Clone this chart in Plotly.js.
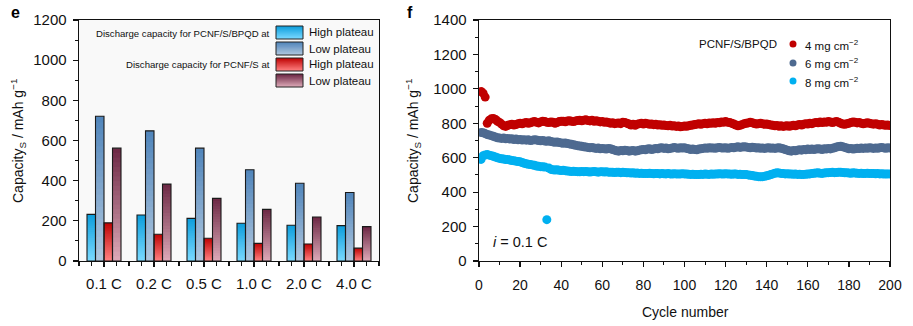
<!DOCTYPE html>
<html><head><meta charset="utf-8">
<script src="https://cdn.plot.ly/plotly-3.0.1.min.js"></script>
<style>html,body{margin:0;padding:0;background:#fff}#chart{width:913px;height:326px}</style>
</head><body><div id="chart"></div>
<script>
// ---------- Panel e data ----------
const rates = ['0.1 C', '0.2 C', '0.5 C', '1.0 C', '2.0 C', '4.0 C'];
const bpqdHigh = [232, 229, 212, 188, 178, 176];
const bpqdLow  = [721, 648, 562, 454, 387, 341];
const pcnfHigh = [190, 133, 113, 88, 85, 64];
const pcnfLow  = [562, 383, 312, 257, 219, 171];

// ---------- Panel f data (cycles 1..200) ----------
const cycles = Array.from({length: 200}, (_, i) => i + 1);
const load4 = [
985,975,952,800,818,826,828,822,812,805,
795,786,782,788,792,795,790,793,798,800,
797,801,805,800,803,807,810,806,802,808,
812,810,806,804,808,806,800,804,810,812,
812,809,813,815,812,810,814,816,818,815,
818,820,816,814,817,812,815,812,808,810,
806,808,804,800,803,798,800,802,798,806,
804,800,796,790,794,788,795,798,800,796,
800,798,794,796,792,795,790,792,788,790,
787,785,788,784,786,782,784,780,782,784,
783,786,788,790,793,795,797,794,798,800,
797,801,800,803,800,805,803,808,806,810,
806,804,800,796,790,786,788,792,797,800,
802,806,803,799,796,798,800,797,794,796,
793,790,788,785,787,783,785,782,784,786,
783,786,789,786,790,793,790,795,798,796,
800,798,802,805,803,807,804,808,806,810,
807,804,808,810,806,800,796,794,797,800,
804,808,806,802,805,800,797,800,803,800,
797,795,798,794,790,793,790,788,790,787];
const load6 = [
746,745,740,735,732,728,724,720,716,714,
712,714,710,712,708,710,706,708,704,706,
703,705,702,704,700,702,705,703,700,698,
700,697,695,698,694,692,690,692,688,686,
684,686,682,680,678,675,672,670,668,666,
664,662,660,658,660,656,654,656,652,654,
652,650,654,652,648,644,640,638,642,640,
644,642,638,640,642,638,640,644,646,648,
646,650,652,648,650,654,652,656,658,654,
656,652,654,656,660,657,655,658,656,658,
654,652,648,650,648,646,650,652,654,657,
655,658,656,657,655,658,660,657,656,658,
655,657,660,658,661,663,660,662,664,662,
660,658,661,659,656,658,655,657,654,656,
658,655,657,654,656,658,655,652,648,644,
640,638,642,640,644,646,644,648,646,650,
648,650,647,650,652,650,648,652,650,653,
651,655,658,662,665,667,664,660,656,652,
654,650,652,655,653,656,654,657,655,658,
656,654,657,655,658,660,657,655,658,656];
const load8 = [
590,612,616,618,615,612,608,604,600,596,
594,592,589,590,586,584,582,580,578,576,
572,568,565,562,560,558,556,552,550,548,
547,546,240,540,532,530,528,530,527,526,
527,525,523,522,520,522,520,519,518,520,
519,520,518,517,519,520,518,516,518,519,
517,518,516,515,516,514,516,515,513,515,
514,512,513,511,512,510,511,509,510,508,
509,508,510,508,507,509,508,506,508,507,
506,508,506,505,507,506,505,506,507,506,
505,504,503,504,502,503,502,504,503,505,
504,503,505,504,506,505,507,506,505,507,
506,505,504,506,505,503,504,502,503,502,
500,498,496,494,492,490,489,490,492,495,
498,502,506,510,512,511,509,508,506,507,
505,506,504,505,503,504,502,503,504,505,
506,508,510,511,512,510,509,511,512,513,
514,515,513,514,515,516,514,512,513,511,
510,512,511,510,509,510,508,509,510,508,
509,508,507,508,506,507,505,506,505,506];

// ---------- helpers ----------
const W = 913, H = 326;
const px = x => x / W;
const py = y => 1 - y / H;
function hex2rgb(h){return [1,3,5].map(i=>parseInt(h.substr(i,2),16));}
function lerp(c1,c2,t){const a=hex2rgb(c1),b=hex2rgb(c2);return 'rgb('+a.map((v,i)=>Math.round(v+(b[i]-v)*t)).join(',')+')';}

const FONT = 'Liberation Sans, Arial, Helvetica, sans-serif';
const idx = rates.map((_, i) => i);
const barW = 0.17;
const series = [
  {vals: bpqdHigh, top: '#0f9fdc', bot: '#78d8ff', off: -2*barW},
  {vals: bpqdLow,  top: '#5286bb', bot: '#aec6de', off: -barW},
  {vals: pcnfHigh, top: '#c00606', bot: '#ff7f7f', off: 0},
  {vals: pcnfLow,  top: '#6e2a46', bot: '#dba7b6', off: barW}
];
// vertical gradient: nested bars from the axis, each shorter one lighter
const K = 24;
const traces = [];
series.forEach(s => {
  for (let k = 0; k < K; k++) {
    const frac = (K - k) / K;
    traces.push({
      type: 'bar', x: idx, y: s.vals.map(v => v * frac),
      offset: s.off, width: barW, xaxis: 'x', yaxis: 'y',
      marker: {color: lerp(s.top, s.bot, k / (K - 1)), line: {width: 0}},
      showlegend: false, hoverinfo: 'skip'
    });
  }
});
series.forEach(s => {
  traces.push({
    type: 'bar', x: idx, y: s.vals, offset: s.off, width: barW, xaxis: 'x', yaxis: 'y',
    marker: {color: 'rgba(0,0,0,0)', line: {color: '#1a1a1a', width: 1.1}},
    showlegend: false, hoverinfo: 'skip'
  });
});

const fSeries = [
  {y: load4, color: '#c00000', name: '4 mg cm<sup>\u22122</sup>'},
  {y: load6, color: '#4e6a90', name: '6 mg cm<sup>\u22122</sup>'},
  {y: load8, color: '#00b0f0', name: '8 mg cm<sup>\u22122</sup>'}
];
fSeries.forEach(s => traces.push({
  type: 'scatter', mode: 'markers', x: cycles, y: s.y, xaxis: 'x2', yaxis: 'y2',
  marker: {color: s.color, size: 9, line: {width: 0}}, showlegend: false, hoverinfo: 'skip', cliponaxis: true
}));

const axisCommon = {
  showline: true, linecolor: '#111', linewidth: 1.4, mirror: true, ticks: 'outside',
  tickcolor: '#111', tickwidth: 1.2, showgrid: false, zeroline: false, fixedrange: true,
  tickfont: {family: FONT, size: 15, color: '#111'}
};

const shapes = [
  {type: 'rect', xref: 'x domain', yref: 'y domain', x0: 0, x1: 1, y0: 0, y1: 1,
   fillcolor: '#f9f9f9', line: {width: 0}, layer: 'below'}
];
const annotations = [];

// legend for panel e (manual layout)
const legBoxes = [
  {y0: 26, y1: 39, s: series[0], label: 'High plateau'},
  {y0: 42, y1: 55, s: series[1], label: 'Low plateau'},
  {y0: 58, y1: 71, s: series[2], label: 'High plateau'},
  {y0: 74, y1: 87, s: series[3], label: 'Low plateau'}
];
legBoxes.forEach(b => {
  const n = 12;
  for (let k = 0; k < n; k++) {
    const top = b.y0 + (b.y1 - b.y0) * k / n;
    shapes.push({type: 'rect', xref: 'paper', yref: 'paper', x0: px(276), x1: px(303),
      y0: py(b.y1), y1: py(top), fillcolor: lerp(b.s.top, b.s.bot, k / (n - 1)), line: {width: 0}});
  }
  shapes.push({type: 'rect', xref: 'paper', yref: 'paper', x0: px(276), x1: px(303),
    y0: py(b.y1), y1: py(b.y0), fillcolor: 'rgba(0,0,0,0)', line: {color: '#222', width: 1}});
  annotations.push({xref: 'paper', yref: 'paper', x: px(307), y: py((b.y0 + b.y1) / 2),
    xanchor: 'left', yanchor: 'middle', text: b.label, showarrow: false,
    font: {family: FONT, size: 11.5, color: '#111'}});
});
annotations.push({xref: 'paper', yref: 'paper', x: px(271.5), y: py(33.5), xanchor: 'right', yanchor: 'middle',
  text: 'Discharge capacity for PCNF/S/BPQD at', showarrow: false, font: {family: FONT, size: 9.6, color: '#111'}});
annotations.push({xref: 'paper', yref: 'paper', x: px(271.5), y: py(64.5), xanchor: 'right', yanchor: 'middle',
  text: 'Discharge capacity for PCNF/S at', showarrow: false, font: {family: FONT, size: 9.6, color: '#111'}});

// legend for panel f (manual layout)
annotations.push({xref: 'paper', yref: 'paper', x: px(697), y: py(44), xanchor: 'left', yanchor: 'middle',
  text: 'PCNF/S/BPQD', showarrow: false, font: {family: FONT, size: 11.5, color: '#111'}});
[44, 63, 81].forEach((yy, i) => {
  shapes.push({type: 'circle', xref: 'paper', yref: 'paper', x0: px(789.5), x1: px(796.5),
    y0: py(yy + 3.5), y1: py(yy - 3.5), fillcolor: fSeries[i].color, line: {width: 0}});
  annotations.push({xref: 'paper', yref: 'paper', x: px(803), y: py(yy + 0.5), xanchor: 'left', yanchor: 'middle',
    text: fSeries[i].name, showarrow: false, font: {family: FONT, size: 11.5, color: '#111'}});
});

// titles and labels
const yTitle = 'Capacity<sub>S</sub> / mAh g<sup>\u22121</sup>';
annotations.push({xref: 'paper', yref: 'paper', x: px(18), y: py(141), textangle: -90, text: yTitle,
  showarrow: false, xanchor: 'center', yanchor: 'middle', font: {family: FONT, size: 14, color: '#111'}});
annotations.push({xref: 'paper', yref: 'paper', x: px(413), y: py(141), textangle: -90, text: yTitle,
  showarrow: false, xanchor: 'center', yanchor: 'middle', font: {family: FONT, size: 14, color: '#111'}});
annotations.push({xref: 'paper', yref: 'paper', x: px(685), y: py(312), text: 'Cycle number',
  showarrow: false, xanchor: 'center', yanchor: 'middle', font: {family: FONT, size: 14, color: '#111'}});
annotations.push({xref: 'paper', yref: 'paper', x: px(491), y: py(242), text: '<i>i</i> = 0.1 C',
  showarrow: false, xanchor: 'left', yanchor: 'middle', font: {family: FONT, size: 14.5, color: '#111'}});
annotations.push({xref: 'paper', yref: 'paper', x: px(9), y: py(13), text: '<b>e</b>',
  showarrow: false, xanchor: 'left', yanchor: 'middle', font: {family: FONT, size: 16, color: '#000'}});
annotations.push({xref: 'paper', yref: 'paper', x: px(405), y: py(13), text: '<b>f</b>',
  showarrow: false, xanchor: 'left', yanchor: 'middle', font: {family: FONT, size: 16, color: '#000'}});

const layout = {
  width: W, height: H, margin: {l: 0, r: 0, t: 0, b: 0},
  paper_bgcolor: '#fff', plot_bgcolor: 'rgba(0,0,0,0)',
  barmode: 'overlay', showlegend: false,
  font: {family: FONT, color: '#111'},
  xaxis: Object.assign({}, axisCommon, {
    domain: [px(79), px(379)], range: [-0.5, 5.5], anchor: 'y',
    tickmode: 'array', tickvals: idx, ticktext: rates, ticklen: 5,
    ticklabelstandoff: 4,
    minor: {tickmode: 'linear', tick0: -0.5, dtick: 0.25, ticklen: 4, tickcolor: '#111', tickwidth: 1.1}
  }),
  yaxis: Object.assign({}, axisCommon, {
    domain: [py(261), py(20)], range: [0, 1200], anchor: 'x',
    tickmode: 'linear', tick0: 0, dtick: 200, ticklen: 5, ticklabelstandoff: 3,
    minor: {tickmode: 'linear', tick0: 0, dtick: 100, ticklen: 3, tickcolor: '#111', tickwidth: 1}
  }),
  xaxis2: Object.assign({}, axisCommon, {
    domain: [px(479), px(890)], range: [0, 200], anchor: 'y2',
    tickmode: 'linear', tick0: 0, dtick: 20, ticklen: 5, ticklabelstandoff: 6,
    tickfont: {family: FONT, size: 14, color: '#111'},
    minor: {tickmode: 'linear', tick0: 0, dtick: 10, ticklen: 3, tickcolor: '#111', tickwidth: 1}
  }),
  yaxis2: Object.assign({}, axisCommon, {
    domain: [py(261), py(20)], range: [0, 1400], anchor: 'x2',
    tickmode: 'linear', tick0: 0, dtick: 200, ticklen: 5, ticklabelstandoff: 3,
    minor: {tickmode: 'linear', tick0: 0, dtick: 100, ticklen: 3, tickcolor: '#111', tickwidth: 1}
  }),
  shapes: shapes,
  annotations: annotations
};

Plotly.newPlot('chart', traces, layout, {staticPlot: true, displayModeBar: false});
</script>
</body></html>
